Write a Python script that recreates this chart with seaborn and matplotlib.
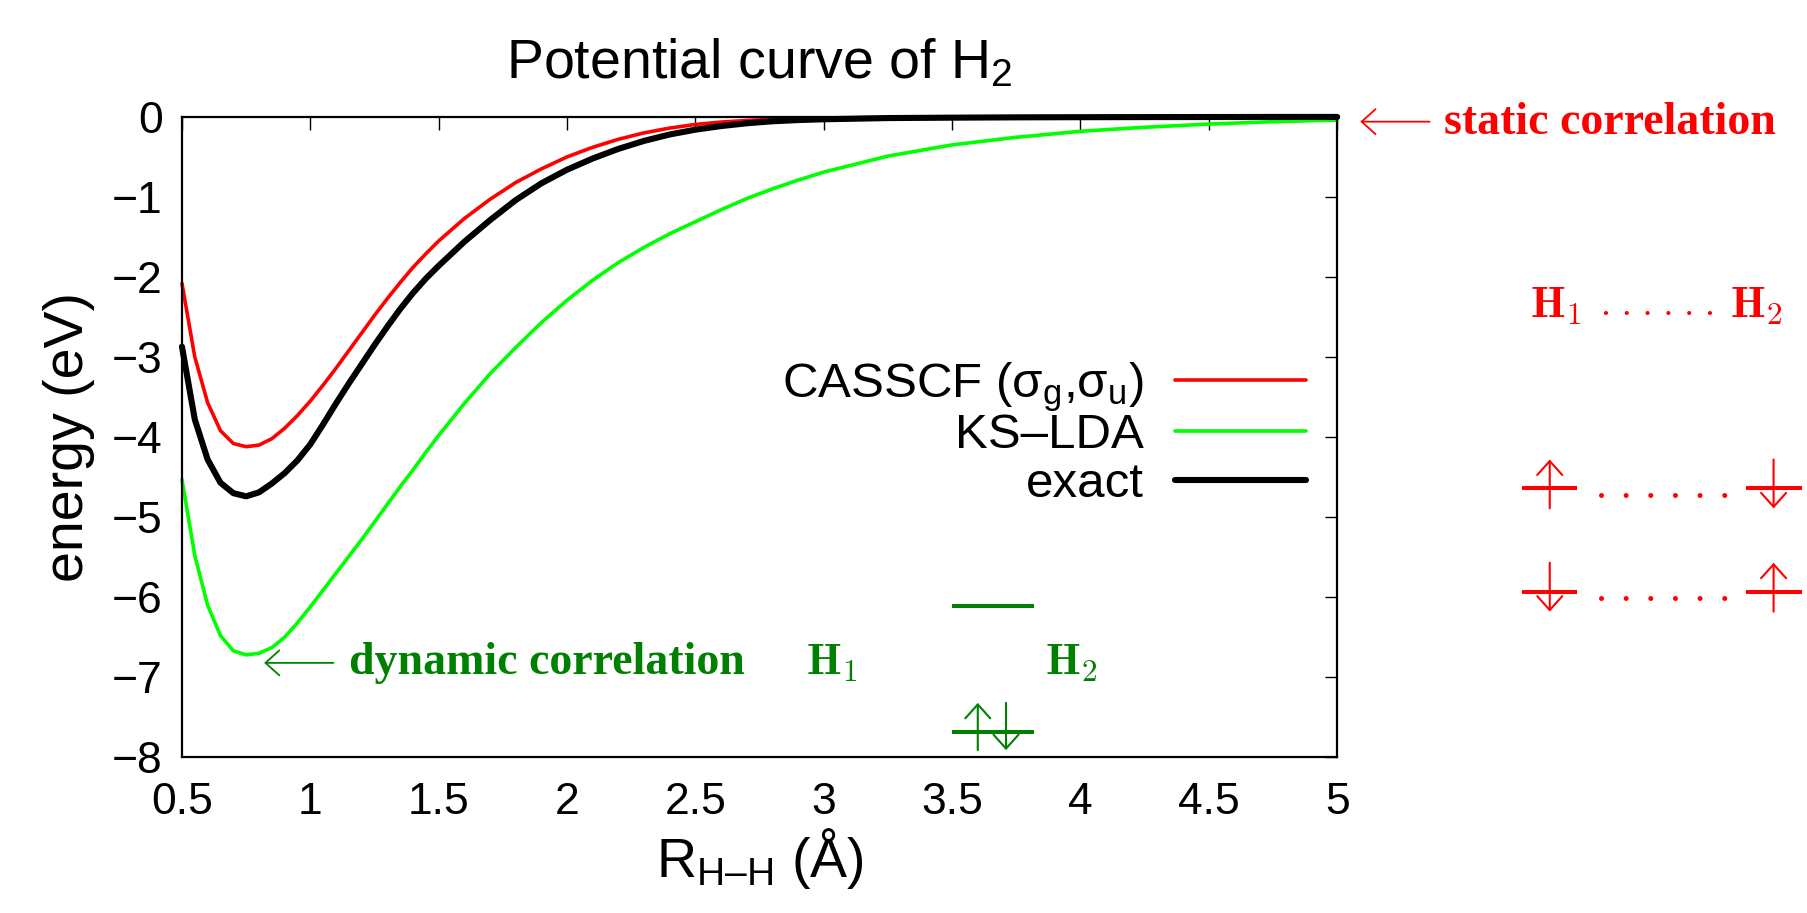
import matplotlib
matplotlib.use('Agg')
import numpy as np
import pandas as pd
import seaborn as sns
from matplotlib import pyplot as plt

# H-H distance (Angstrom) and energies (eV)
r = [0.50, 0.55, 0.60, 0.65, 0.70, 0.75, 0.80, 0.85, 0.90, 0.95, 1.00,
     1.05, 1.10, 1.15, 1.20, 1.25, 1.30, 1.35, 1.40, 1.45, 1.50,
     1.6, 1.7, 1.8, 1.9, 2.0, 2.1, 2.2, 2.3, 2.4, 2.5, 2.6, 2.7, 2.8, 2.9, 3.0,
     3.25, 3.5, 3.75, 4.0, 4.25, 4.5, 4.75, 5.0]
casscf = [-2.08, -3.00, -3.57, -3.92, -4.08, -4.12, -4.10, -4.02, -3.89, -3.73, -3.55,
          -3.35, -3.14, -2.92, -2.70, -2.48, -2.27, -2.07, -1.88, -1.71, -1.55,
          -1.27, -1.03, -0.82, -0.65, -0.50, -0.38, -0.28, -0.20, -0.14, -0.095,
          -0.065, -0.045, -0.03, -0.02, -0.015,
          -0.008, -0.005, -0.003, -0.002, -0.001, -0.001, 0.0, 0.0]
ks_lda = [-4.53, -5.48, -6.10, -6.48, -6.67, -6.72, -6.70, -6.63, -6.50, -6.32, -6.12,
          -5.91, -5.70, -5.49, -5.28, -5.06, -4.84, -4.62, -4.41, -4.19, -3.98,
          -3.58, -3.21, -2.88, -2.57, -2.29, -2.04, -1.82, -1.63, -1.46, -1.31,
          -1.16, -1.02, -0.90, -0.79, -0.69,
          -0.49, -0.35, -0.255, -0.18, -0.13, -0.09, -0.06, -0.04]
exact = [-2.87, -3.78, -4.28, -4.57, -4.70, -4.74, -4.69, -4.58, -4.45, -4.29, -4.09,
         -3.84, -3.58, -3.33, -3.09, -2.85, -2.62, -2.40, -2.20, -2.02, -1.86,
         -1.56, -1.29, -1.04, -0.83, -0.66, -0.52, -0.40, -0.30, -0.22, -0.16,
         -0.115, -0.08, -0.055, -0.04, -0.03,
         -0.015, -0.01, -0.006, -0.004, -0.003, -0.002, -0.001, -0.001]

labels = ['CASSCF (σ$_\\mathrm{g}$,σ$_\\mathrm{u}$)', 'KS\u2013LDA', 'exact']
colors = ['#ff0000', '#00ff00', '#000000']
widths = [2.6, 2.6, 4.4]
x_ticks = [0.5, 1, 1.5, 2, 2.5, 3, 3.5, 4, 4.5, 5]
y_ticks = [-8, -7, -6, -5, -4, -3, -2, -1, 0]

df = pd.DataFrame({'R': r * 3,
                   'E': casscf + ks_lda + exact,
                   'method': [labels[0]] * len(r) + [labels[1]] * len(r) + [labels[2]] * len(r)})

sns.set_style('white')
plt.rcParams['font.family'] = ['Liberation Sans', 'DejaVu Sans']
plt.rcParams['mathtext.fontset'] = 'custom'
plt.rcParams['mathtext.rm'] = 'Liberation Sans'
plt.rcParams['mathtext.it'] = 'Liberation Sans:italic'
plt.rcParams['mathtext.bf'] = 'Liberation Sans:bold'
plt.rcParams['text.color'] = 'black'
plt.rcParams['axes.labelcolor'] = 'black'
plt.rcParams['xtick.color'] = 'black'
plt.rcParams['ytick.color'] = 'black'

fig = plt.figure(figsize=(18.07, 9.13), dpi=100)
ax = fig.add_axes([0.1007, 0.1705, 0.6393, 0.7015])

for lab, col, lw in zip(labels, colors, widths):
    sns.lineplot(data=df[df['method'] == lab], x='R', y='E', color=col, lw=lw,
                 ax=ax, clip_on=False, legend=False)

ax.set_xlim(0.5, 5)
ax.set_ylim(-8, 0)
ax.set_xticks(x_ticks)
ax.set_xticklabels([f'{t:g}' for t in x_ticks])
ax.set_yticks(y_ticks)
ax.set_yticklabels([f'\u2212{-t}' if t < 0 else '0' for t in y_ticks])
ax.tick_params(direction='in', length=9, width=1.0, top=True, right=True,
               labelsize=32, pad=14, color='black', labelcolor='black')
ax.tick_params(axis='x', pad=18)
for s in ax.spines.values():
    s.set_linewidth(1.6)
    s.set_color('black')

ax.set_title('Potential curve of H$_2$', fontsize=40, pad=28, color='black')
ax.set_xlabel('R$_\\mathrm{H\u2013H}$ (Å)', fontsize=40, labelpad=2)
ax.set_ylabel('energy (eV)', fontsize=40, labelpad=12)

# key, gnuplot style: text right-aligned, sample line to its right
key_y = [-3.29, -3.92, -4.54]
for lab, col, lw, y in zip(labels, colors, widths, key_y):
    ax.plot([4.37, 4.88], [y, y], color=col, lw=lw, clip_on=False)
    ax.text(4.246, y - 0.21, lab, ha='right', va='baseline', fontsize=35.5)

serif = dict(family='Liberation Serif', weight='bold', fontsize=33)
red = '#ff0000'
dgreen = '#008000'


def arrow(x0, y0, x1, y1, color, lw=1.3):
    ax.annotate('', xy=(x1, y1), xytext=(x0, y0), annotation_clip=False,
                arrowprops=dict(arrowstyle='->,head_length=0.5,head_width=0.45',
                                color=color, lw=lw, mutation_scale=20,
                                shrinkA=0, shrinkB=0))


def dots(x0, x1, y, n, color, lw):
    # evenly spaced round dots drawn as a dashed line
    p0 = ax.transData.transform((x0, y))
    p1 = ax.transData.transform((x1, y))
    length_pt = (p1[0] - p0[0]) * 72 / fig.dpi
    gap = length_pt / (n - 1) / lw
    ax.plot([x0, x1 + 0.01], [y, y], color=color, lw=lw, clip_on=False,
            linestyle=(0, (0.001, gap)), dash_capstyle='round')


def level(x0, x1, y, color):
    ax.plot([x0, x1], [y, y], color=color, lw=2.9, clip_on=False,
            solid_capstyle='butt')


# static correlation
arrow(5.36, -0.06, 5.09, -0.06, red)
ax.text(5.415, -0.21, 'static correlation', color=red, ha='left', va='baseline', **serif)

# dynamic correlation
arrow(1.09, -6.82, 0.82, -6.82, dgreen)
ax.text(1.15, -6.96, 'dynamic correlation', color=dgreen, ha='left', va='baseline', **serif)

# green MO diagram
ax.text(2.93, -6.96, r'$\mathbf{H}_1$', color=dgreen, fontsize=32, math_fontfamily='cm',
        ha='left', va='baseline')
ax.text(3.86, -6.96, r'$\mathbf{H}_2$', color=dgreen, fontsize=32, math_fontfamily='cm',
        ha='left', va='baseline')
level(3.50, 3.82, -6.11, dgreen)
level(3.50, 3.82, -7.68, dgreen)
arrow(3.60, -7.91, 3.60, -7.32, dgreen, lw=1.5)
arrow(3.71, -7.32, 3.71, -7.91, dgreen, lw=1.5)

# red dissociated configurations
ax.text(5.75, -2.5, r'$\mathbf{H}_1$', color=red, fontsize=32, math_fontfamily='cm',
        ha='left', va='baseline')
ax.text(6.735, -2.5, r'$\mathbf{H}_2$', color=red, fontsize=32, math_fontfamily='cm',
        ha='right', va='baseline')
dots(6.047, 6.452, -2.45, 6, red, 3.0)

for y, up_left in [(-4.64, True), (-5.93, False)]:
    level(5.718, 5.936, y, red)
    level(6.591, 6.809, y, red)
    top, bot = y + 0.36, y - 0.25
    if up_left:
        arrow(5.828, bot, 5.828, top, red, lw=1.5)
        arrow(6.70, top, 6.70, bot, red, lw=1.5)
    else:
        arrow(5.828, top, 5.828, bot, red, lw=1.5)
        arrow(6.70, bot, 6.70, top, red, lw=1.5)
    dots(6.026, 6.506, y - 0.085, 6, red, 3.6)

fig.savefig('out.png', dpi=100, facecolor='white')
